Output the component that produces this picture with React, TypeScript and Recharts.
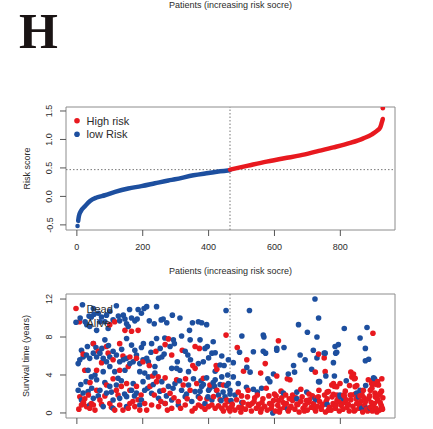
import React from 'react';
import { ComposedChart, ScatterChart, Scatter, Line, XAxis, YAxis, ReferenceLine, ReferenceArea } from 'recharts';

const RED = '#E8191F';
const BLUE = '#1D4F9F';
const BOX = '#8c8c8c';
const INK = '#2b2b2b';
const FONT = '"Liberation Sans", Arial, sans-serif';

// axes
const patientTicks = [0, 200, 400, 600, 800];
const riskTicks = [-0.5, 0, 0.5, 1, 1.5];
const timeTicks = [0, 2, 4, 6, 8, 10, 12];
const patientDomain: [number, number] = [-33, 966];
const riskDomain: [number, number] = [-0.59, 1.57];
const timeDomain: [number, number] = [-0.53, 12.53];
const cutoffPatient = 465;
const cutoffScore = 0.47;

const lowRiskCurve: [number, number][] = [
  [4, -0.43], [6, -0.35], [12, -0.26], [25, -0.17], [40, -0.08], [60, -0.02], [85, 0.02],
  [116, 0.08], [156, 0.14], [196, 0.18], [237, 0.23], [278, 0.28], [298, 0.3], [354, 0.37],
  [400, 0.41], [435, 0.44], [464, 0.46],
];
const highRiskCurve: [number, number][] = [
  [465, 0.47], [520, 0.54], [576, 0.61], [630, 0.67], [678, 0.72], [729, 0.79], [779, 0.86],
  [830, 0.94], [870, 1.02], [896, 1.09], [911, 1.15], [921, 1.21], [926, 1.3], [929, 1.36],
];
const lowRiskOutliers: [number, number][] = [[2, -0.52]];
const highRiskOutliers: [number, number][] = [[929, 1.55]];

// survival time [patient, years]
const alivePoints: [number, number][] = [
  [17, 11.4], [25, 9.6], [37, 10.2], [44, 10.1], [50, 11.0], [52, 10.4], [39, 9.1], [60, 8.7], [65, 10.5],
  [70, 9.6], [75, 10.1], [85, 9.6], [95, 8.9], [100, 10.7], [110, 9.8], [120, 11.3], [126, 10.2], [141, 10.3],
  [146, 9.9], [151, 9.4], [156, 9.1], [166, 10.0], [176, 9.7], [183, 9.9], [196, 10.5], [204, 11.0], [212, 11.2],
  [220, 9.7], [235, 9.4], [242, 11.2], [256, 9.8], [262, 9.9], [273, 9.5], [290, 10.3], [313, 10.0], [342, 8.7],
  [351, 9.5], [369, 9.6], [379, 9.5], [394, 9.3], [453, 10.8], [524, 10.8], [673, 9.3], [723, 12.0], [734, 10.0],
  [812, 8.9], [881, 9.0], [10, 10.0], [30, 9.3], [90, 10.3], [130, 9.7], [160, 10.9], [186, 10.9],
  [9, 5.6], [4, 5.2], [19, 5.9], [29, 6.1], [39, 5.75], [50, 6.3], [60, 5.9], [70, 6.3], [80, 5.75], [90, 5.4],
  [100, 5.9], [110, 6.5], [120, 6.1], [130, 5.4], [141, 5.6], [151, 5.75], [161, 5.2], [171, 5.4], [181, 6.1],
  [191, 5.2], [201, 5.6], [212, 5.75], [34, 4.5], [44, 3.8], [55, 4.0], [80, 4.35], [100, 4.9], [115, 4.35],
  [125, 3.65], [146, 4.5], [191, 4.35], [206, 4.2],
  [14, 6.6], [32, 7.0], [58, 6.9], [76, 6.8], [96, 7.1], [136, 6.7], [176, 6.6], [196, 6.9], [225, 6.4],
  [265, 6.2], [305, 5.4], [345, 5.6], [400, 5.8], [440, 6.0],
  [50, 7.3], [85, 7.7], [151, 7.85], [166, 7.15], [202, 7.3], [242, 7.85], [267, 7.9], [293, 7.7], [318, 8.1],
  [374, 7.7], [414, 7.5], [296, 7.3], [227, 7.3], [344, 7.7], [253, 6.8], [283, 7.0], [329, 6.5], [337, 6.1],
  [389, 6.8], [410, 6.3], [420, 6.35], [248, 5.75], [258, 5.9], [288, 4.7], [303, 4.7], [313, 4.5], [339, 4.35],
  [217, 5.4], [237, 4.9], [369, 5.2], [384, 5.4], [435, 5.05], [460, 5.6],
  [396, 7.0], [494, 6.4], [501, 8.1], [536, 6.45], [566, 8.2], [568, 8.0], [566, 6.5], [573, 6.3], [607, 6.8],
  [607, 6.6], [629, 6.9], [700, 8.5], [718, 6.6], [729, 8.0], [729, 5.8], [751, 6.3], [678, 6.1], [693, 5.6],
  [784, 7.0], [794, 7.2], [789, 6.4], [786, 6.3], [860, 7.9], [876, 5.5], [876, 6.8], [886, 5.65], [779, 5.3],
  [475, 5.3], [447, 5.0], [658, 5.0], [713, 4.6], [516, 4.8], [526, 4.3], [420, 4.4], [642, 4.1], [661, 4.3],
  [597, 4.1], [754, 6.3],
  [4, 2.4], [19, 2.1], [34, 2.25], [50, 1.54], [70, 2.4], [90, 2.1], [110, 1.37], [130, 1.54], [151, 1.72],
  [166, 2.4], [181, 2.1], [196, 1.37], [206, 2.4], [14, 1.37], [39, 0.84], [80, 0.67], [110, 0.5], [151, 0.67],
  [191, 0.84], [120, 2.95], [171, 3.1], [201, 3.3], [60, 3.5], [100, 2.8],
  [12, 3.0], [28, 3.3], [45, 2.6], [65, 1.8], [85, 3.2], [105, 2.2], [135, 3.4], [145, 2.0], [175, 1.8],
  [215, 2.6], [232, 3.0], [252, 2.3], [272, 1.8], [292, 2.6], [312, 3.4], [333, 2.0], [354, 3.6], [374, 2.3],
  [398, 1.7], [418, 2.8], [438, 1.3], [458, 4.0],
  [217, 3.8], [237, 4.2], [258, 3.3], [278, 2.8], [298, 3.1], [318, 2.4], [339, 2.95], [359, 2.25], [379, 2.8],
  [400, 2.4], [420, 3.5], [440, 3.8], [460, 3.1], [227, 2.07], [248, 1.54], [268, 1.0], [288, 1.37], [308, 0.84],
  [329, 1.72], [349, 1.2], [369, 1.72], [389, 1.0], [410, 1.37], [430, 1.9], [450, 1.7], [465, 2.4],
  [377, 3.4], [384, 3.0], [394, 3.7], [404, 2.6], [414, 3.2], [424, 2.4], [435, 3.0], [444, 2.2], [455, 2.9],
  [465, 2.0], [468, 1.3], [475, 3.8],
  [480, 1.9], [490, 3.1], [501, 1.1], [515, 2.7], [536, 2.5], [548, 2.2], [561, 2.6], [580, 3.6], [586, 3.3],
  [595, 0.0], [627, 2.1], [640, 0.4], [668, 2.2], [668, 1.5], [698, 2.2], [723, 1.5], [729, 1.4], [734, 3.3],
  [756, 3.9], [782, 3.9], [799, 1.9], [810, 1.5], [818, 3.4], [850, 2.1], [860, 2.4], [877, 2.9], [901, 3.7],
  [904, 3.6], [880, 0.5], [760, 0.9], [737, 3.3], [855, 1.7], [800, 1.7], [865, 0.5], [891, 0.5],
];

const deadPoints: [number, number][] = [
  [8, 9.6], [100, 9.3], [115, 9.6], [146, 8.7], [166, 8.6], [186, 8.7], [453, 8.2], [899, 8.4],
  [19, 6.2], [50, 7.3], [65, 6.5], [90, 7.0], [95, 6.3], [110, 5.6], [130, 7.3], [161, 5.9], [181, 5.75],
  [24, 4.5], [60, 4.5], [130, 4.5], [156, 4.9], [201, 5.4],
  [75, 5.3], [140, 6.0], [240, 6.5], [320, 6.6], [40, 3.2], [110, 3.6], [230, 3.9], [330, 3.6],
  [278, 7.8], [268, 7.2], [359, 7.0], [372, 6.8], [288, 6.1], [220, 5.0], [352, 5.0], [359, 4.7], [425, 4.6],
  [247, 3.8], [268, 3.7],
  [487, 6.9], [612, 7.6], [734, 6.2], [751, 5.8], [516, 5.6], [572, 5.2], [423, 5.0], [506, 4.4], [558, 4.2],
  [607, 3.9], [639, 3.6], [647, 3.5], [724, 4.3], [832, 4.3], [840, 4.1], [842, 3.6], [828, 2.9], [850, 2.9],
  [779, 3.1], [782, 2.8], [900, 3.5], [913, 3.3], [926, 3.6], [910, 3.0], [895, 3.1],
  [835, 3.8], [845, 3.65], [885, 3.5], [904, 3.05], [896, 2.6], [916, 2.95], [799, 3.1], [789, 2.77],
  [774, 2.95], [845, 2.77], [779, 1.96], [810, 1.9], [830, 1.9], [860, 1.8], [891, 2.4], [921, 2.07],
  [764, 2.25], [754, 4.35],
  [14, 0.84], [29, 0.67], [39, 0.5], [50, 0.84], [24, 1.5], [60, 2.4], [90, 2.95], [120, 2.4], [135, 2.8],
  [151, 3.1], [161, 2.4], [181, 2.8], [100, 1.0], [130, 0.84], [156, 0.5], [176, 0.67], [191, 0.3], [206, 1.0],
  [70, 1.37], [115, 0.3], [161, 1.0], [9, 1.7], [44, 1.0], [186, 1.4],
  [6, 0.4], [20, 1.1], [35, 1.9], [55, 0.3], [75, 0.9], [85, 1.8], [105, 0.6], [125, 1.9], [140, 0.3],
  [170, 1.2], [195, 1.9], [212, 0.3], [235, 1.9], [255, 1.2], [275, 0.3], [295, 1.6], [315, 0.5], [335, 1.5],
  [350, 0.2], [395, 1.5], [435, 1.4], [465, 0.2],
  [222, 2.8], [242, 3.3], [263, 2.4], [283, 2.07], [303, 3.5], [323, 2.95], [344, 2.4], [364, 3.1], [384, 3.65],
  [404, 2.95], [425, 2.4], [445, 2.95], [227, 0.84], [248, 0.67], [268, 1.0], [288, 0.5], [308, 1.2], [329, 0.84],
  [359, 0.5], [369, 0.84], [379, 0.67], [389, 0.4], [400, 0.67], [410, 0.84], [420, 0.5], [430, 0.75], [440, 0.5],
  [450, 0.84], [460, 0.5], [470, 0.67], [374, 1.54], [415, 1.72], [455, 1.37],
  [472, 0.9], [480, 0.3], [485, 1.4], [492, 0.6], [498, 0.1], [505, 1.1], [512, 0.4], [518, 1.7], [525, 0.8],
  [530, 0.2], [538, 1.2], [545, 0.5], [552, 0.9], [558, 0.1], [565, 1.5], [570, 0.7], [578, 0.3], [585, 1.0],
  [590, 0.5], [597, 1.3], [603, 0.2], [610, 0.8], [617, 0.4], [622, 1.6], [630, 0.6], [636, 1.0], [642, 0.2],
  [650, 0.7], [655, 1.3], [662, 0.4], [668, 0.9], [675, 0.1], [680, 1.2], [687, 0.5], [693, 0.8], [700, 0.3],
  [706, 1.4], [712, 0.6], [718, 1.0], [725, 0.2], [730, 0.7], [737, 1.2], [742, 0.4], [748, 0.9], [755, 0.1],
  [760, 1.5], [767, 0.6], [772, 0.3], [778, 1.0], [785, 0.5], [790, 1.3], [797, 0.2], [803, 0.8], [808, 0.4],
  [815, 1.1], [820, 0.6], [827, 0.2], [832, 1.4], [838, 0.7], [845, 0.3], [850, 1.0], [857, 0.5], [862, 1.2],
  [868, 0.1], [874, 0.8], [880, 0.4], [886, 1.5], [891, 0.6], [897, 0.2], [903, 1.0], [908, 0.5], [914, 1.3],
  [919, 0.3], [924, 0.8], [928, 0.4],
  [500, 0.6], [532, 1.0], [562, 1.1], [592, 0.8], [612, 1.3], [645, 1.5], [665, 1.6], [697, 1.3], [727, 1.6],
  [757, 1.2], [787, 0.8], [818, 1.4], [848, 1.5], [872, 1.6], [912, 1.5],
  [490, 2.2], [520, 2.4], [548, 1.9], [575, 2.6], [600, 2.0], [620, 2.3], [655, 1.9], [680, 2.5], [705, 2.0],
  [735, 2.4], [760, 2.2], [790, 1.9], [815, 2.3], [845, 2.0], [870, 2.4], [905, 2.1], [925, 2.3],
  [605, 1.8], [615, 0.1], [626, 1.1], [634, 1.9], [646, 0.5], [659, 1.6], [671, 0.9], [684, 1.7], [691, 0.2],
  [703, 1.1], [715, 1.8], [721, 0.5], [733, 1.7], [745, 0.8], [752, 1.9], [764, 0.3], [775, 1.7], [781, 0.8],
  [794, 1.6], [800, 1.1], [812, 1.8], [824, 0.9], [835, 1.9], [842, 0.2], [853, 1.7], [859, 0.8], [866, 1.9],
  [877, 1.2], [883, 0.2], [889, 1.8], [894, 1.1], [900, 0.7], [906, 1.7], [911, 0.1], [916, 1.9], [921, 1.1],
  [926, 0.6], [929, 1.6], [520, 0.9], [540, 1.6], [560, 0.4], [583, 1.8], [460, 1.2], [445, 0.2], [500, 1.8],
];

const toRows = (pts: [number, number][]) => pts.map(([idx, score]) => ({ idx, score }));

const survivalRows = [
  ...alivePoints.map(([idx, years]) => ({ idx, years, dead: false })),
  ...deadPoints.map(([idx, years]) => ({ idx, years, dead: true })),
].sort((a, b) => a.idx - b.idx);

const XTickLabel = ({ x, y, payload }: any) => (
  <text x={x} y={y + 12} textAnchor="middle" fontSize={9} fill={INK} fontFamily={FONT}>
    {payload.value}
  </text>
);

const makeYTick = (digits: number) => ({ x, y, payload }: any) => (
  <text
    x={x - 5.5}
    y={y}
    transform={`rotate(-90 ${x - 5.5} ${y})`}
    textAnchor="middle"
    fontSize={9}
    fill={INK}
    fontFamily={FONT}
  >
    {Number(payload.value).toFixed(digits)}
  </text>
);

const NoTick = () => <g />;

const tickLine = { stroke: '#555', strokeWidth: 1 };

const App: React.FC = () => {
  return (
    <div style={{ position: 'absolute', left: 0, top: 0, width: 433, height: 429, overflow: 'hidden', background: '#fff' }}>
      {/* Risk score panel */}
      <div style={{ position: 'absolute', left: 0, top: 0 }}>
        <ComposedChart width={433} height={285} margin={{ top: 107, right: 38, bottom: 15, left: 6 }}>
          <XAxis
            type="number"
            dataKey="idx"
            domain={patientDomain}
            allowDataOverflow
            ticks={patientTicks}
            axisLine={false}
            tickLine={tickLine}
            tickSize={6}
            tick={<XTickLabel />}
            height={40}
          />
          <YAxis
            type="number"
            dataKey="score"
            domain={riskDomain}
            allowDataOverflow
            ticks={riskTicks}
            axisLine={false}
            tickLine={tickLine}
            tickSize={6}
            tick={makeYTick(1)}
            width={60}
          />
          <ReferenceArea x1={patientDomain[0]} x2={patientDomain[1]} y1={riskDomain[0]} y2={riskDomain[1]} fill="none" fillOpacity={0} stroke={BOX} strokeWidth={1} />
          <ReferenceLine x={cutoffPatient} stroke="#777" strokeDasharray="1.5 2" />
          <ReferenceLine y={cutoffScore} stroke="#777" strokeDasharray="1.5 2" />
          <Line data={toRows(lowRiskCurve)} dataKey="score" type="monotone" stroke={BLUE} strokeWidth={4.5} strokeLinecap="round" dot={false} isAnimationActive={false} />
          <Line data={toRows(highRiskCurve)} dataKey="score" type="monotone" stroke={RED} strokeWidth={4.5} strokeLinecap="round" dot={false} isAnimationActive={false} />
          <Scatter data={toRows(lowRiskOutliers)} dataKey="score" isAnimationActive={false}
            shape={(p: any) => <circle cx={p.cx} cy={p.cy} r={2.3} fill={BLUE} />} />
          <Scatter data={toRows(highRiskOutliers)} dataKey="score" isAnimationActive={false}
            shape={(p: any) => <circle cx={p.cx} cy={p.cy} r={2.3} fill={RED} />} />
        </ComposedChart>
      </div>

      {/* Survival panel */}
      <div style={{ position: 'absolute', left: 0, top: 285 }}>
        <ScatterChart width={433} height={150} margin={{ top: 9, right: 38, bottom: 0, left: 6 }}>
          <XAxis
            type="number"
            dataKey="idx"
            domain={patientDomain}
            allowDataOverflow
            ticks={patientTicks}
            axisLine={false}
            tickLine={tickLine}
            tickSize={6}
            tick={<NoTick />}
            height={17}
          />
          <YAxis
            type="number"
            dataKey="years"
            domain={timeDomain}
            allowDataOverflow
            ticks={timeTicks}
            axisLine={false}
            tickLine={tickLine}
            tickSize={6}
            tick={makeYTick(0)}
            width={60}
          />
          <ReferenceArea x1={patientDomain[0]} x2={patientDomain[1]} y1={timeDomain[0]} y2={timeDomain[1]} fill="none" fillOpacity={0} stroke={BOX} strokeWidth={1} />
          <Scatter
            data={survivalRows}
            isAnimationActive={false}
            shape={(p: any) => <circle cx={p.cx} cy={p.cy} r={2.8} fill={p.payload && p.payload.dead ? RED : BLUE} />}
          />
          <ReferenceLine x={cutoffPatient} stroke="#777" strokeDasharray="1.5 2" />
        </ScatterChart>
      </div>

      {/* texts and legends */}
      <svg width={433} height={429} style={{ position: 'absolute', left: 0, top: 0, pointerEvents: 'none' }}>
        <text x={230.5} y={8} textAnchor="middle" fontSize={9} fill={INK} fontFamily={FONT}>Patients (increasing risk socre)</text>
        <text x={19} y={48} fontSize={50} fontWeight="bold" fill="#1a1414" fontFamily='"Liberation Serif", "Times New Roman", serif'>H</text>

        <text x={30} y={168.5} transform="rotate(-90 30 168.5)" textAnchor="middle" fontSize={9} fill={INK} fontFamily={FONT}>Risk score</text>
        <text x={230.5} y={274} textAnchor="middle" fontSize={9} fill={INK} fontFamily={FONT}>Patients (increasing risk socre)</text>
        <text x={29} y={356} transform="rotate(-90 29 356)" textAnchor="middle" fontSize={9} fill={INK} fontFamily={FONT}>Survival time (years)</text>

        <circle cx={77} cy={120.7} r={2.8} fill={RED} />
        <text x={86.5} y={124.5} fontSize={11} fill={INK} fontFamily={FONT}>High risk</text>
        <circle cx={77} cy={134.3} r={2.8} fill={BLUE} />
        <text x={86.5} y={138.3} fontSize={11} fill={INK} fontFamily={FONT}>low Risk</text>

        <circle cx={76} cy={308.5} r={2.8} fill={RED} />
        <text x={86.5} y={313} fontSize={11} fill={INK} fontFamily={FONT}>Dead</text>
        <circle cx={76} cy={322.3} r={2.8} fill={BLUE} />
        <text x={86.5} y={326.7} fontSize={11} fill={INK} fontFamily={FONT}>Alive</text>
      </svg>
    </div>
  );
};

export default App;
